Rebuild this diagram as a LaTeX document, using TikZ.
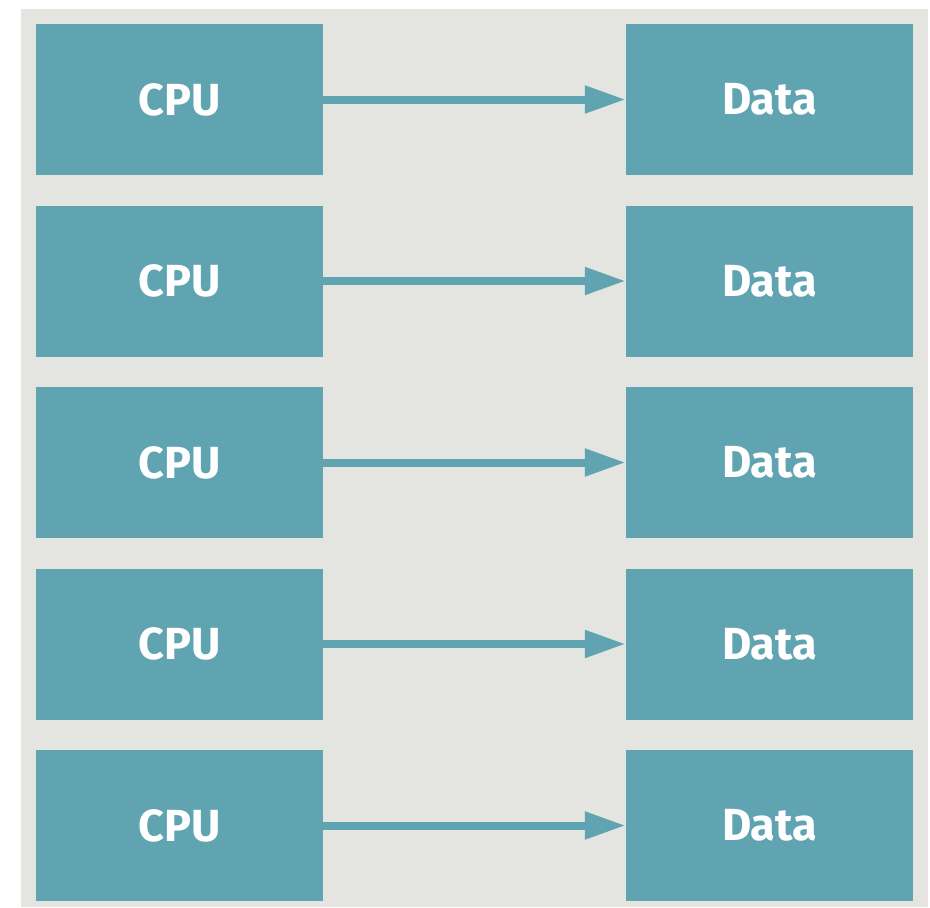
\documentclass[tikz,border=0pt]{standalone}
\usepackage{fontspec}
\setmainfont{Fira Sans}
\usetikzlibrary{arrows.meta}
\definecolor{boxteal}{HTML}{60A4B1}
\definecolor{panelgray}{HTML}{E4E5E0}
\begin{document}
\begin{tikzpicture}[x=1pt,y=-1pt,
  unit/.style={fill=boxteal, draw=none, minimum width=287pt, minimum height=151pt,
    inner sep=0pt, text=white, font=\fontsize{45}{50}\selectfont\bfseries},
  link/.style={draw=boxteal, line width=8pt,
    -{Triangle[length=41pt,width=26pt]}}]
  \useasboundingbox (0,0) rectangle (930,908);
  \fill[panelgray] (21,9) rectangle (928,907);
  \foreach \i/\y in {1/99.5,2/281,3/462.5,4/644,5/825.5}{
    \node[unit] (cpu\i) at (179.5,\y) {\raisebox{-1.5pt}{CPU}};
    \node[unit] (data\i) at (769.5,\y) {\raisebox{-1.5pt}{Data}};
    \draw[link] (cpu\i.east) -- (data\i.west);
  }
\end{tikzpicture}
\end{document}
